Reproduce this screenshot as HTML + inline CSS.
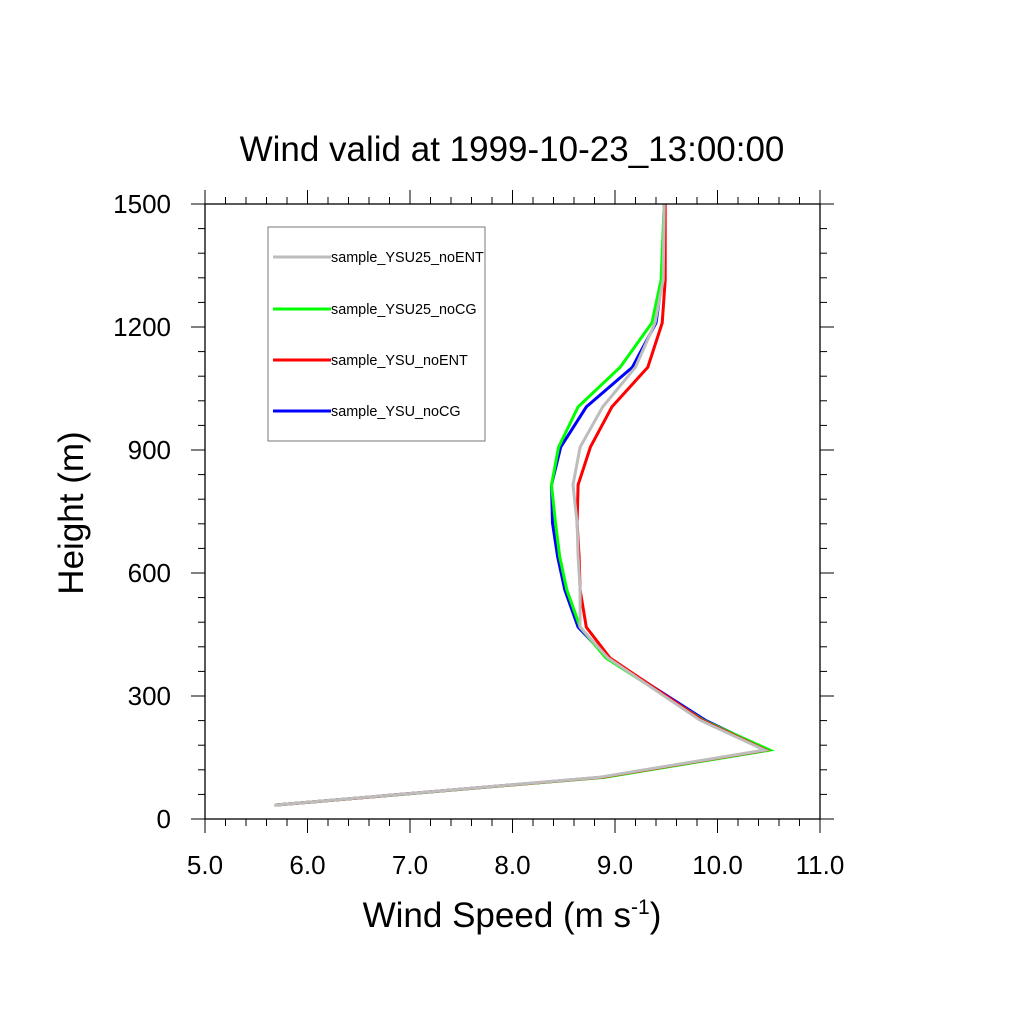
<!DOCTYPE html>
<html><head><meta charset="utf-8"><style>
html,body{margin:0;padding:0;background:#fff;}
svg{display:block;font-family:"Liberation Sans",sans-serif;}
</style></head><body>
<svg id="chart" width="1024" height="1024" viewBox="0 0 1024 1024" xmlns="http://www.w3.org/2000/svg">
<rect width="1024" height="1024" fill="#fff"/>
<text x="512" y="161" text-anchor="middle" font-size="35">Wind valid at 1999-10-23_13:00:00</text>
<text transform="translate(83,513) rotate(-90)" text-anchor="middle" font-size="35">Height (m)</text>
<text x="512" y="927" text-anchor="middle" font-size="35">Wind Speed (m s<tspan dy="-13" font-size="21">-1</tspan><tspan dy="13">)</tspan></text>
<g id="ticks"></g>
<g id="series"></g>
<rect x="205" y="204" width="615" height="615" fill="none" stroke="#000" stroke-width="1.3"/>
<g id="legend">
<rect x="268" y="227" width="217" height="214" fill="#fff" stroke="#777" stroke-width="1"/>
</g>
</svg>
<script>
const heights=[34,102,168,241,393,468,559,640,722,815,907,1005,1102,1210,1315,1500];
const ysu25NoEnt=[5.68,8.85,10.46,9.83,8.93,8.66,8.66,8.64,8.63,8.59,8.66,8.88,9.20,9.39,9.47,9.48];
const ysu25NoCg=[5.68,8.90,10.51,9.86,8.91,8.66,8.53,8.46,8.42,8.38,8.45,8.64,9.05,9.36,9.45,9.48];
const ysuNoEnt=[5.68,8.87,10.47,9.85,8.95,8.72,8.66,8.65,8.63,8.64,8.76,8.97,9.32,9.46,9.49,9.49];
const ysuNoCg=[5.68,8.88,10.49,9.88,8.93,8.64,8.51,8.44,8.39,8.38,8.47,8.72,9.17,9.40,9.46,9.48];
const seriesNames=["sample_YSU25_noENT","sample_YSU25_noCG","sample_YSU_noENT","sample_YSU_noCG"];
const seriesColors=["#bdbdbd","#00ff00","#ff0000","#0000ff"];
const xTickLabels=["5.0","6.0","7.0","8.0","9.0","10.0","11.0"];
const yTickLabels=["0","300","600","900","1200","1500"];
const NS="http://www.w3.org/2000/svg";
const X0=205,X1=820,Y0=819,Y1=204;
const xs=v=>X0+(v-5)/6*(X1-X0);
const ys=v=>Y0-v/1500*(Y0-Y1);
function mk(tag,attrs,parent){const e=document.createElementNS(NS,tag);for(const k in attrs)e.setAttribute(k,attrs[k]);parent.appendChild(e);return e;}
const tg=document.getElementById('ticks');
for(let i=0;i<=30;i++){const v=5+i*0.2;const x=xs(v);const L=(i%5===0)?14:7;
 const b=mk('line',{x1:x,y1:Y0,x2:x,y2:Y0+L,stroke:'#000','stroke-width':1},tg);
 
 
 const t=mk('line',{x1:x,y1:Y1,x2:x,y2:Y1-L,stroke:'#000','stroke-width':1},tg);
 
 }
for(let i=0;i<=25;i++){const v=i*60;const y=ys(v);const L=(i%5===0)?14:7;
 const a=mk('line',{x1:X0,y1:y,x2:X0-L,y2:y,stroke:'#000','stroke-width':1},tg);
 
 
 const c=mk('line',{x1:X1,y1:y,x2:X1+L,y2:y,stroke:'#000','stroke-width':1},tg);
 
 }
xTickLabels.forEach(s=>{const t=mk('text',{x:xs(parseFloat(s)),y:874,'text-anchor':'middle','font-size':26},tg);t.textContent=s;
 
 });
yTickLabels.forEach(s=>{const t=mk('text',{x:171,y:ys(parseFloat(s))+9,'text-anchor':'end','font-size':26},tg);t.textContent=s;
 
 });
const allSeries=[ysu25NoEnt,ysu25NoCg,ysuNoEnt,ysuNoCg];
const sg=document.getElementById('series');
[3,1,2,0].forEach(k=>{const pts=allSeries[k].map((v,i)=>xs(v).toFixed(1)+','+ys(heights[i]).toFixed(1)).join(' ');
 const p=mk('polyline',{points:pts,fill:'none',stroke:seriesColors[k],'stroke-width':3,'stroke-linejoin':'miter'},sg);
 
 });
const lg=document.getElementById('legend');
const ly=[257,309,360,411];
seriesNames.forEach((n,i)=>{
 const l=mk('line',{x1:273,y1:ly[i],x2:331,y2:ly[i],stroke:seriesColors[i],'stroke-width':3},lg);
 
 
 const t=mk('text',{x:331,y:ly[i]+5,'font-size':14.4},lg);t.textContent=n;
 
 });
</script>
</body></html>
